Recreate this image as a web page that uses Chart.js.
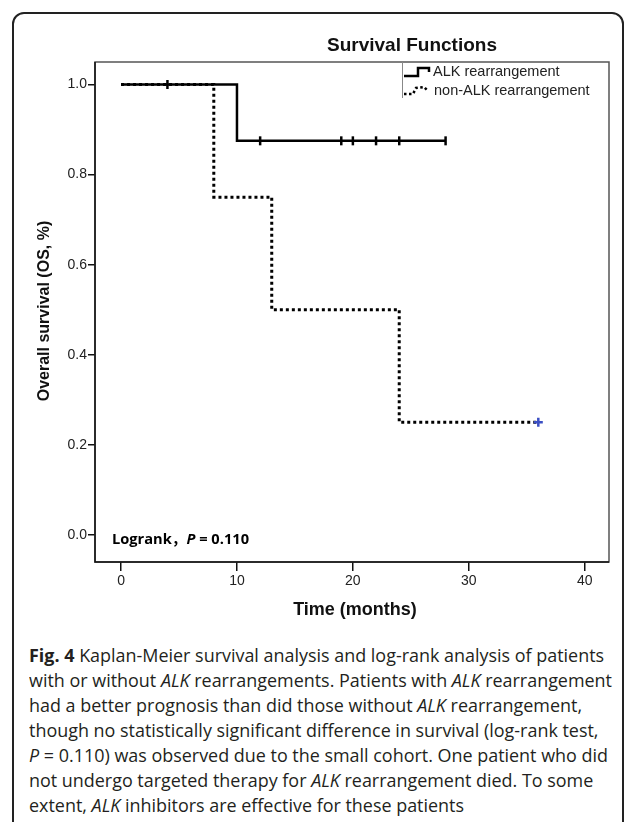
<!DOCTYPE html>
<html lang="en">
<head>
<meta charset="UTF-8">
<title>Survival Functions</title>
<script src="https://cdn.jsdelivr.net/npm/chart.js"></script>
<style>
    body {
        margin: 0;
        background: #fff;
        width: 636px;
        height: 822px;
        overflow: hidden;
        position: relative;
        font-family: 'Open Sans', sans-serif;
    }

    .frame {
        position: absolute;
        left: 12px;
        top: 12px;
        width: 612px;
        height: 860px;
        border: 2px solid #222;
        border-radius: 12px;
        box-sizing: border-box;
    }

    #survChart {
        position: absolute;
        left: 0;
        top: 0;
    }

    /* caption under the chart */
    .caption {
        position: absolute;
        left: 29px;
        top: 642px;
        font-size: 18.5px;
        line-height: 25px;
        color: #231f20;
        white-space: nowrap;
        transform-origin: 0 0;
    }

    .caption div span { display: inline-block; }
</style>
</head>
<body>
<div class="frame"></div>
<canvas id="survChart" width="636" height="640"></canvas>
<div class="caption" id="caption">
    <div><span><b>Fig. 4</b> Kaplan-Meier survival analysis and log-rank analysis of patients</span></div>
    <div><span>with or without <i>ALK</i> rearrangements. Patients with <i>ALK</i> rearrangement</span></div>
    <div><span>had a better prognosis than did those without <i>ALK</i> rearrangement,</span></div>
    <div><span>though no statistically significant difference in survival (log-rank test,</span></div>
    <div><span><i>P</i> = 0.110) was observed due to the small cohort. One patient who did</span></div>
    <div><span>not undergo targeted therapy for <i>ALK</i> rearrangement died. To some</span></div>
    <div><span>extent, <i>ALK</i> inhibitors are effective for these patients</span></div>
</div>

<script>
    // Kaplan-Meier step points (time in months, survival proportion)
    const alkTimes = [0, 10, 28];
    const alkSurvival = [1.0, 0.875, 0.875];
    const nonAlkTimes = [0, 8, 13, 24, 36];
    const nonAlkSurvival = [1.0, 0.75, 0.5, 0.25, 0.25];

    // censored observations
    const alkCensorTimes = [4, 12, 19, 20, 22, 24, 28];
    const alkCensorSurvival = [1.0, 0.875, 0.875, 0.875, 0.875, 0.875, 0.875];
    const nonAlkCensorTimes = [36];
    const nonAlkCensorSurvival = [0.25];

    const xTicks = [0, 10, 20, 30, 40];
    const yTicks = [0.0, 0.2, 0.4, 0.6, 0.8, 1.0];

    const seriesNames = ['ALK rearrangement', 'non-ALK rearrangement'];

    function toPoints(xs, ys) {
        return xs.map((x, i) => ({ x: x, y: ys[i] }));
    }

    // fixed decorations: frame box, titles, legend, logrank note
    const decorations = {
        id: 'decorations',
        afterDraw(chart) {
            const ctx = chart.ctx;
            const a = chart.chartArea;
            ctx.save();

            // plot box
            ctx.strokeStyle = '#555';
            ctx.lineWidth = 1.5;
            ctx.strokeRect(a.left, a.top, a.right - a.left, a.bottom - a.top);
            ctx.strokeStyle = '#111';
            ctx.beginPath();
            ctx.moveTo(a.left, a.top);
            ctx.lineTo(a.left, a.bottom);
            ctx.lineTo(a.right, a.bottom);
            ctx.stroke();

            ctx.fillStyle = '#111';
            ctx.textAlign = 'center';
            ctx.textBaseline = 'middle';

            // main title
            ctx.font = 'bold 19px "Liberation Sans", Arial, sans-serif';
            ctx.fillText('Survival Functions', 412, 46);

            // x axis title
            ctx.font = 'bold 18px "Liberation Sans", Arial, sans-serif';
            ctx.fillText('Time (months)', 355, 610);

            // y axis title
            ctx.save();
            ctx.translate(45, 311);
            ctx.rotate(-Math.PI / 2);
            ctx.font = 'bold 16px "Liberation Sans", Arial, sans-serif';
            ctx.fillText('Overall survival (OS, %)', 0, 0);
            ctx.restore();

            // legend
            ctx.strokeStyle = '#888';
            ctx.lineWidth = 1;
            ctx.beginPath();
            ctx.moveTo(402.5, a.top);
            ctx.lineTo(402.5, 98);
            ctx.stroke();

            ctx.strokeStyle = '#000';
            ctx.lineWidth = 2.5;
            ctx.setLineDash([]);
            ctx.beginPath();
            ctx.moveTo(404, 76);
            ctx.lineTo(418, 76);
            ctx.lineTo(418, 68);
            ctx.lineTo(429, 68);
            ctx.lineTo(429, 72);
            ctx.stroke();

            ctx.setLineDash([2.5, 2.5]);
            ctx.beginPath();
            ctx.moveTo(404, 94);
            ctx.lineTo(413, 94);
            ctx.lineTo(416, 88);
            ctx.lineTo(424, 87);
            ctx.lineTo(427, 90);
            ctx.stroke();
            ctx.setLineDash([]);

            ctx.textAlign = 'left';
            ctx.fillStyle = '#222';
            ctx.font = '14.5px "Liberation Sans", Arial, sans-serif';
            ctx.fillText(seriesNames[0], 433, 72);
            ctx.fillText(seriesNames[1], 434, 91);

            // logrank note
            ctx.fillStyle = '#000';
            const parts = [
                ['bold 15px "Open Sans", "Noto Sans CJK SC", sans-serif', 'Logrank，'],
                ['italic bold 15px "Open Sans", sans-serif', 'P'],
                ['bold 15px "Open Sans", sans-serif', ' = 0.110']
            ];
            let total = 0;
            parts.forEach(p => { ctx.font = p[0]; total += ctx.measureText(p[1]).width; });
            const sx = 137 / total;
            ctx.save();
            ctx.translate(112, 540);
            ctx.scale(sx, 1);
            let px = 0;
            parts.forEach(p => {
                ctx.font = p[0];
                ctx.fillText(p[1], px, 0);
                px += ctx.measureText(p[1]).width;
            });
            ctx.restore();

            ctx.restore();
        }
    };

    const ctx = document.getElementById('survChart').getContext('2d');
    new Chart(ctx, {
        type: 'line',
        data: {
            datasets: [
                {
                    label: seriesNames[0],
                    data: toPoints(alkTimes, alkSurvival),
                    stepped: true,
                    borderColor: '#000',
                    borderWidth: 2.5,
                    pointRadius: 0,
                    fill: false,
                    order: 2
                },
                {
                    label: seriesNames[1],
                    data: toPoints(nonAlkTimes, nonAlkSurvival),
                    stepped: true,
                    borderColor: '#000',
                    borderWidth: 3,
                    borderDash: [3, 3],
                    borderCapStyle: 'butt',
                    pointRadius: 0,
                    fill: false,
                    order: 1
                },
                {
                    label: 'ALK censored',
                    data: toPoints(alkCensorTimes, alkCensorSurvival),
                    showLine: false,
                    pointStyle: 'line',
                    rotation: 90,
                    pointRadius: 4.5,
                    pointBorderWidth: 2.5,
                    pointBorderColor: '#000',
                    order: 0
                },
                {
                    label: 'non-ALK censored',
                    data: toPoints(nonAlkCensorTimes, nonAlkCensorSurvival),
                    showLine: false,
                    pointStyle: 'cross',
                    pointRadius: 4.5,
                    pointBorderWidth: 2.5,
                    pointBorderColor: '#3b4fc4',
                    order: 0
                }
            ]
        },
        options: {
            responsive: false,
            animation: false,
            devicePixelRatio: 1,
            layout: {
                padding: { top: 62, right: 27, left: 0, bottom: 0 }
            },
            plugins: {
                legend: { display: false },
                title: { display: false },
                tooltip: { enabled: false }
            },
            scales: {
                x: {
                    type: 'linear',
                    min: -2.25,
                    max: 42.1,
                    afterBuildTicks: scale => { scale.ticks = xTicks.map(v => ({ value: v })); },
                    afterFit: scale => { scale.height = 78; },
                    border: { display: false },
                    grid: {
                        drawOnChartArea: false,
                        drawTicks: true,
                        tickLength: 9,
                        tickColor: '#111',
                        lineWidth: 1.5
                    },
                    ticks: {
                        color: '#222',
                        padding: 2,
                        maxRotation: 0,
                        font: { family: '"Liberation Sans", Arial, sans-serif', size: 14 },
                        callback: v => String(v)
                    }
                },
                y: {
                    type: 'linear',
                    min: -0.06,
                    max: 1.05,
                    afterBuildTicks: scale => { scale.ticks = yTicks.map(v => ({ value: v })); },
                    afterFit: scale => { scale.width = 95; },
                    border: { display: false },
                    grid: {
                        drawOnChartArea: false,
                        drawTicks: true,
                        tickLength: 7,
                        tickColor: '#111',
                        lineWidth: 1.5
                    },
                    ticks: {
                        color: '#222',
                        padding: 1,
                        font: { family: '"Liberation Sans", Arial, sans-serif', size: 14 },
                        callback: v => Number(v).toFixed(1)
                    }
                }
            }
        },
        plugins: [decorations]
    });

    // squeeze caption horizontally so its widest line fits the frame
    const spans = document.querySelectorAll('#caption span');
    let widest = 0;
    spans.forEach(s => { widest = Math.max(widest, s.getBoundingClientRect().width); });
    document.getElementById('caption').style.transform = 'scaleX(' + (583 / widest) + ')';
</script>
</body>
</html>
